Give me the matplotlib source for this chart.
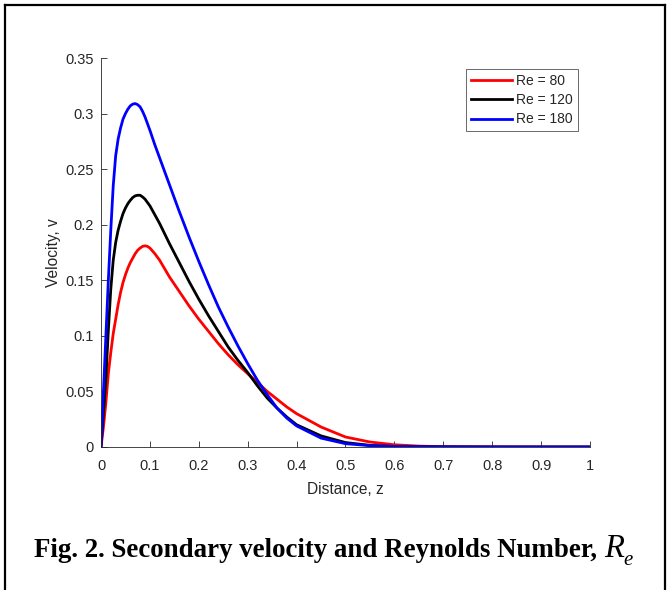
import matplotlib
matplotlib.use("Agg")
import matplotlib.pyplot as plt
from matplotlib.lines import Line2D

# ---- data ----
z_vals = [0, 0.005, 0.01, 0.015, 0.02, 0.025, 0.03, 0.035, 0.04, 0.045, 0.05, 0.055, 0.06,
          0.065, 0.07, 0.075, 0.08, 0.085, 0.09, 0.095, 0.10, 0.11, 0.12, 0.14, 0.16, 0.18,
          0.20, 0.22, 0.24, 0.26, 0.28, 0.30, 0.32, 0.34, 0.36, 0.38, 0.40, 0.45, 0.50,
          0.55, 0.60, 0.65, 0.70, 0.80, 0.90, 1.0]

v_re80 = [0, 0.018, 0.040, 0.066, 0.085, 0.102, 0.115, 0.128, 0.139, 0.148, 0.155, 0.161, 0.166,
          0.170, 0.174, 0.177, 0.179, 0.1805, 0.181, 0.1805, 0.179, 0.174, 0.168, 0.153, 0.140,
          0.127, 0.115, 0.104, 0.093, 0.083, 0.074, 0.066, 0.058, 0.050, 0.043, 0.036, 0.030,
          0.018, 0.009, 0.0045, 0.002, 0.0008, 0.0003, 0.0001, 0, 0]

v_re120 = [0, 0.030, 0.062, 0.105, 0.142, 0.168, 0.184, 0.195, 0.203, 0.210, 0.215, 0.219, 0.222,
           0.2245, 0.226, 0.2265, 0.2265, 0.225, 0.223, 0.220, 0.217, 0.209, 0.201, 0.183, 0.166,
           0.149, 0.133, 0.118, 0.104, 0.090, 0.078, 0.067, 0.055, 0.044, 0.035, 0.027, 0.020,
           0.010, 0.004, 0.0015, 0.0005, 0.0002, 0.0001, 0, 0, 0]

v_re180 = [0, 0.050, 0.100, 0.150, 0.195, 0.235, 0.262, 0.277, 0.287, 0.295, 0.300, 0.304, 0.307,
           0.3085, 0.309, 0.308, 0.306, 0.302, 0.297, 0.291, 0.285, 0.272, 0.260, 0.236, 0.212,
           0.189, 0.167, 0.146, 0.126, 0.108, 0.091, 0.075, 0.060, 0.047, 0.035, 0.026, 0.019,
           0.008, 0.003, 0.0012, 0.0004, 0.0002, 0.0001, 0, 0, 0]

series_labels = ["Re = 80", "Re = 120", "Re = 180"]
series_colors = ["#ff0000", "#000000", "#0000ff"]

x_ticks = [0, 0.1, 0.2, 0.3, 0.4, 0.5, 0.6, 0.7, 0.8, 0.9, 1.0]
x_tick_labels = ["0", "0.1", "0.2", "0.3", "0.4", "0.5", "0.6", "0.7", "0.8", "0.9", "1"]
y_ticks = [0, 0.05, 0.1, 0.15, 0.2, 0.25, 0.3, 0.35]
y_tick_labels = ["0", "0.05", "0.1", "0.15", "0.2", "0.25", "0.3", "0.35"]

caption_main = "Fig. 2. Secondary velocity and Reynolds Number, "
caption_sym = "R"
caption_sub = "e"

# ---- figure ----
plt.rcParams["font.family"] = ["Liberation Sans", "DejaVu Sans"]

W, H = 668.0, 590.0
fig = plt.figure(figsize=(W / 100, H / 100), dpi=100)
ax = fig.add_axes([101 / W, 1 - 447 / H, 489 / W, 389 / H])

txt_col = "#262626"
for vals, lab, col in zip([v_re80, v_re120, v_re180], series_labels, series_colors):
    ax.plot(z_vals, vals, color=col, lw=2.0, label=lab, solid_joinstyle="round")

ax.set_xlim(0, 1)
ax.set_ylim(0, 0.35)
ax.set_xticks(x_ticks)
ax.set_xticklabels(x_tick_labels)
ax.set_yticks(y_ticks)
ax.set_yticklabels(y_tick_labels)
ax.tick_params(direction="in", length=4, width=0.6, colors=txt_col, labelsize=10.5,
               top=False, right=False)
ax.tick_params(axis="x", pad=9)
ax.tick_params(axis="y", pad=5)
for s in ["top", "right"]:
    ax.spines[s].set_visible(False)
for s in ["left", "bottom"]:
    ax.spines[s].set_color(txt_col)
    ax.spines[s].set_linewidth(0.6)

ax.set_xlabel("Distance, z", fontsize=11.2, color=txt_col, labelpad=6)
ax.set_ylabel("Velocity, v", fontsize=11.2, color=txt_col, labelpad=3)

leg = ax.legend(loc="upper right", bbox_to_anchor=((578 - 101) / 489, (447 - 69) / 389),
                fontsize=10, frameon=True, fancybox=False, handlelength=2.9,
                handletextpad=0.35, borderpad=0.35, labelspacing=0.38, borderaxespad=0)
leg.get_frame().set_edgecolor(txt_col)
leg.get_frame().set_linewidth(0.6)
for t in leg.get_texts():
    t.set_color(txt_col)

# caption: bold serif text followed by italic R with subscript e
base_y = 1 - 557 / H
t_main = fig.text(34 / W, base_y, caption_main, ha="left", va="baseline",
                  fontsize=19.4, fontweight="bold", family="Liberation Serif", color="black")
fig.canvas.draw()
r = fig.canvas.get_renderer()
bb = t_main.get_window_extent(renderer=r)
x_r = bb.x1 / W
t_R = fig.text(x_r, base_y, caption_sym, ha="left", va="baseline", fontsize=23.5,
               fontstyle="italic", family="Liberation Serif", color="black")
bb2 = t_R.get_window_extent(renderer=r)
fig.text(bb2.x1 / W, base_y - 8 / H, caption_sub, ha="left", va="baseline", fontsize=15,
         fontstyle="italic", family="Liberation Serif", color="black")

# frame lines (top, left, right)
fig.add_artist(Line2D([5 / W, 5 / W], [0, 1 - 5 / H], color="black", lw=1.6,
                      transform=fig.transFigure))
fig.add_artist(Line2D([665 / W, 665 / W], [0, 1 - 5 / H], color="black", lw=1.6,
                      transform=fig.transFigure))
fig.add_artist(Line2D([5 / W, 665 / W], [1 - 5 / H, 1 - 5 / H], color="black", lw=1.6,
                      transform=fig.transFigure))

fig.savefig("out.png", dpi=100)
